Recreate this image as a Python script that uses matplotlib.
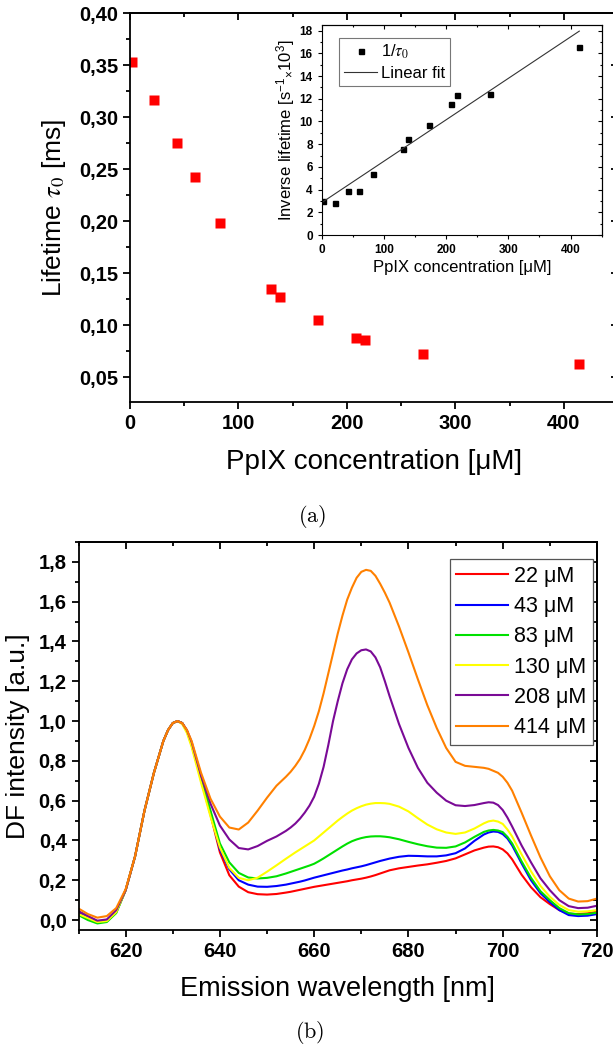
import numpy as np
import matplotlib
matplotlib.use('Agg')
import matplotlib.pyplot as plt
from matplotlib.ticker import MultipleLocator, FuncFormatter

plt.rcParams['font.family'] = ['Liberation Sans', 'DejaVu Sans']
plt.rcParams['mathtext.fontset'] = 'custom'
plt.rcParams['mathtext.rm'] = 'Liberation Sans'
plt.rcParams['mathtext.it'] = 'Liberation Sans:italic'
plt.rcParams['mathtext.bf'] = 'Liberation Sans:bold'

### panel (a): lifetime vs PpIX concentration
conc = [2, 22, 43, 60, 83, 130, 138, 173, 208, 217, 270, 414]
lifetime = [0.353, 0.316, 0.275, 0.242, 0.198, 0.135, 0.127, 0.105, 0.088, 0.086, 0.072, 0.063]
inv_lifetime = [3.0, 2.8, 3.85, 3.9, 5.4, 7.6, 8.45, 9.7, 11.5, 12.3, 12.4, 16.6]
fit_intercept = 2.85
fit_slope = 0.0365
fit_range = [2, 414]

### panel (b): delayed fluorescence spectra
wl = [610, 612, 614, 616, 618, 620, 622, 624, 626, 628,
      629, 630, 631, 632, 633, 634,
      636, 638, 640, 642, 644, 646, 648, 650,
      652, 654,
      655, 656, 657, 658, 659, 660, 661, 662, 663, 664, 665, 666, 667, 668, 669, 670, 671, 672, 673, 674, 675, 676,
      678, 680, 682, 684, 686, 688, 690, 692, 694, 696,
      697, 698, 699, 700, 701, 702,
      704, 706, 708, 710, 712, 714, 716, 718, 720]
df_22 = [0.040, 0.015, -0.010, -0.005, 0.040, 0.150, 0.320, 0.550, 0.740, 0.900,
         0.955, 0.990, 1.000, 0.990, 0.950, 0.880,
         0.705, 0.530, 0.340, 0.225, 0.168, 0.140, 0.130, 0.128,
         0.131, 0.138,
         0.142, 0.147, 0.152, 0.157, 0.162, 0.167, 0.171, 0.175, 0.179, 0.183, 0.187, 0.191, 0.195, 0.200, 0.204, 0.208, 0.213, 0.219, 0.226, 0.234, 0.242, 0.250,
         0.260, 0.267, 0.274, 0.280, 0.288, 0.297, 0.310, 0.330, 0.350, 0.364,
         0.369, 0.370, 0.366, 0.355, 0.335, 0.305,
         0.228, 0.165, 0.115, 0.080, 0.050, 0.032, 0.030, 0.034, 0.042]
df_43 = [0.035, 0.010, -0.010, -0.005, 0.040, 0.150, 0.320, 0.550, 0.740, 0.900,
         0.955, 0.990, 1.000, 0.990, 0.950, 0.880,
         0.710, 0.540, 0.355, 0.255, 0.200, 0.178, 0.168, 0.167,
         0.171, 0.178,
         0.183, 0.188, 0.193, 0.199, 0.206, 0.213, 0.219, 0.225, 0.231, 0.237, 0.243, 0.249, 0.254, 0.260, 0.265, 0.270, 0.276, 0.283, 0.290, 0.297, 0.303, 0.309,
         0.318, 0.323, 0.322, 0.320, 0.320, 0.325, 0.336, 0.360, 0.398, 0.430,
         0.440, 0.445, 0.443, 0.432, 0.410, 0.375,
         0.285, 0.200, 0.135, 0.090, 0.050, 0.025, 0.020, 0.022, 0.030]
df_83 = [0.025, 0.000, -0.017, -0.010, 0.035, 0.150, 0.320, 0.550, 0.740, 0.900,
         0.955, 0.990, 1.000, 0.990, 0.950, 0.885,
         0.715, 0.550, 0.385, 0.290, 0.237, 0.214, 0.209, 0.212,
         0.220, 0.234,
         0.242, 0.250, 0.258, 0.266, 0.274, 0.283, 0.296, 0.310, 0.325, 0.340, 0.355, 0.370, 0.384, 0.396, 0.405, 0.412, 0.417, 0.420, 0.421, 0.421, 0.419, 0.416,
         0.406, 0.393, 0.381, 0.371, 0.364, 0.363, 0.370, 0.390, 0.418, 0.443,
         0.450, 0.453, 0.450, 0.442, 0.418, 0.385,
         0.295, 0.212, 0.145, 0.100, 0.060, 0.035, 0.028, 0.030, 0.037]
df_130 = [0.030, 0.010, -0.010, -0.005, 0.040, 0.150, 0.320, 0.550, 0.740, 0.900,
          0.955, 0.990, 1.000, 0.985, 0.940, 0.870,
          0.690, 0.520, 0.365, 0.262, 0.212, 0.200, 0.213, 0.243,
          0.275, 0.308,
          0.324, 0.340, 0.355, 0.370, 0.385, 0.400, 0.420, 0.440, 0.460, 0.480, 0.500, 0.518, 0.535, 0.550, 0.562, 0.572, 0.580, 0.585, 0.588, 0.588, 0.587, 0.584,
          0.570, 0.546, 0.512, 0.480, 0.456, 0.440, 0.433, 0.440, 0.460, 0.486,
          0.496, 0.500, 0.495, 0.483, 0.455, 0.420,
          0.330, 0.245, 0.172, 0.117, 0.076, 0.050, 0.042, 0.044, 0.050]
df_208 = [0.045, 0.020, -0.003, 0.003, 0.050, 0.150, 0.320, 0.550, 0.740, 0.900,
          0.955, 0.990, 1.000, 0.990, 0.955, 0.895,
          0.725, 0.585, 0.475, 0.405, 0.362, 0.355, 0.372, 0.398,
          0.420, 0.448,
          0.465, 0.485, 0.510, 0.540, 0.575, 0.620, 0.685, 0.770, 0.880, 1.000, 1.100, 1.190, 1.260, 1.310, 1.340, 1.356, 1.360, 1.350, 1.320, 1.270, 1.200, 1.125,
          0.985, 0.865, 0.765, 0.690, 0.640, 0.600, 0.577, 0.573, 0.578, 0.588,
          0.592, 0.590, 0.578, 0.553, 0.515, 0.470,
          0.375, 0.290, 0.210, 0.150, 0.100, 0.070, 0.060, 0.062, 0.072]
df_414 = [0.058, 0.030, 0.012, 0.020, 0.060, 0.155, 0.320, 0.550, 0.740, 0.900,
          0.955, 0.990, 1.000, 0.990, 0.955, 0.900,
          0.740, 0.610, 0.520, 0.465, 0.455, 0.490, 0.550, 0.615,
          0.675, 0.720,
          0.745, 0.775, 0.810, 0.855, 0.910, 0.975, 1.050, 1.140, 1.240, 1.340, 1.440, 1.530, 1.610, 1.670, 1.720, 1.750, 1.760, 1.755, 1.730, 1.690, 1.645, 1.595,
          1.475, 1.345, 1.210, 1.080, 0.965, 0.865, 0.795, 0.775, 0.770, 0.765,
          0.760, 0.750, 0.740, 0.720, 0.690, 0.650,
          0.540, 0.425, 0.315, 0.220, 0.150, 0.108, 0.093, 0.095, 0.108]
spectra = [df_22, df_43, df_83, df_130, df_208, df_414]
spectra_labels = ['22 μM', '43 μM', '83 μM', '130 μM', '208 μM', '414 μM']
spectra_colors = ['#ff0000', '#0000ff', '#00e000', '#ffff00', '#7a0a96', '#ff8000']

W, H = 613, 1051
fig = plt.figure(figsize=(W / 100, H / 100), dpi=100)

def comma_fmt(nd):
    return FuncFormatter(lambda v, p: ('{:.%df}' % nd).format(v).replace('.', ','))

def style_axes(ax, xmaj, xmin, ymaj, ymin, size, lw, tlen):
    for s in ax.spines.values():
        s.set_linewidth(lw)
    ax.xaxis.set_major_locator(MultipleLocator(xmaj))
    ax.xaxis.set_minor_locator(MultipleLocator(xmin))
    ax.yaxis.set_major_locator(MultipleLocator(ymaj))
    ax.yaxis.set_minor_locator(MultipleLocator(ymin))
    ax.tick_params(which='both', direction='out', top=False, right=False, width=lw, labelsize=size)
    ax.tick_params(which='major', length=tlen)
    ax.tick_params(which='minor', length=tlen * 0.6)
    for lab in ax.get_xticklabels() + ax.get_yticklabels():
        lab.set_fontweight('bold')
    # mirrored ticks pointing inward on top and right
    top = ax.secondary_xaxis('top')
    top.xaxis.set_major_locator(MultipleLocator(xmaj))
    top.xaxis.set_minor_locator(MultipleLocator(xmin))
    top.tick_params(which='both', direction='in', labeltop=False, width=lw)
    top.tick_params(which='major', length=tlen)
    top.tick_params(which='minor', length=tlen * 0.6)
    top.spines['top'].set_linewidth(lw)
    right = ax.secondary_yaxis('right')
    right.yaxis.set_major_locator(MultipleLocator(ymaj))
    right.yaxis.set_minor_locator(MultipleLocator(ymin))
    right.tick_params(which='both', direction='in', labelright=False, width=lw)
    right.tick_params(which='major', length=tlen)
    right.tick_params(which='minor', length=tlen * 0.6)
    right.spines['right'].set_linewidth(lw)

### (a) main axes
ax1 = fig.add_axes([130 / W, 1 - 402 / H, (618 - 130) / W, (402 - 13) / H])
ax1.plot(conc, lifetime, 's', color='#ff0000', ms=6.5, mec='none')
ax1.set_xlim(0, 450)
ax1.set_ylim(0.026, 0.40)
style_axes(ax1, 100, 50, 0.05, 0.025, 14.5, 1.3, 5)
ax1.yaxis.set_major_formatter(comma_fmt(2))
ax1.set_xlabel('PpIX concentration [μM]', fontsize=20, labelpad=12)
ax1.set_ylabel(r'Lifetime $\tau_0$ [ms]', fontsize=19, labelpad=8, math_fontfamily='stix')

### (a) inset
ins = fig.add_axes([321.7 / W, 1 - 235 / H, 280 / W, 210 / H])
ins.plot(conc, inv_lifetime, 's', color='black', ms=3.6, label=r'1/$\tau_0$')
fit_x = np.array(fit_range)
ins.plot(fit_x, fit_intercept + fit_slope * fit_x, '-', color='#333333', lw=0.8, label='Linear fit')
ins.set_xlim(0, 450)
ins.set_ylim(0, 18.5)
style_axes(ins, 100, 50, 2, 1, 8.5, 0.8, 3)
ins.set_xlabel('PpIX concentration [μM]', fontsize=12, labelpad=3)
ins.set_ylabel(r'Inverse lifetime [s$^{-1}$$_{\times}$10$^{3}$]', fontsize=12, labelpad=2)
leg1 = ins.legend(loc='upper left', bbox_to_anchor=(0.062, 0.938), borderaxespad=0, fontsize=12,
                  numpoints=1, fancybox=False, edgecolor='#777777', framealpha=1,
                  handlelength=2.0, labelspacing=0.25, borderpad=0.3, handletextpad=0.2)
leg1.get_frame().set_linewidth(0.8)
leg1.get_texts()[0].set_math_fontfamily('stix')

fig.text(312 / W, 1 - 517 / H, r'$\mathrm{(a)}$', math_fontfamily='cm', fontsize=16,
         ha='center', va='center')

### (b) spectra
ax2 = fig.add_axes([78.5 / W, 1 - 930 / H, 518.5 / W, 388 / H])
for ys, lab, col in zip(spectra, spectra_labels, spectra_colors):
    ax2.plot(wl, ys, '-', color=col, lw=1.5, label=lab)
ax2.set_xlim(610, 720)
ax2.set_ylim(-0.05, 1.9)
style_axes(ax2, 20, 10, 0.2, 0.1, 14.5, 1.3, 5)
ax2.yaxis.set_major_formatter(comma_fmt(1))
ax2.set_xlabel('Emission wavelength [nm]', fontsize=19.5, labelpad=11)
ax2.set_ylabel('DF intensity [a.u.]', fontsize=19, labelpad=6)
leg2 = ax2.legend(loc='upper right', bbox_to_anchor=(0.992, 0.955), borderaxespad=0, fontsize=15.5,
                  fancybox=False, edgecolor='#555555', framealpha=1, handlelength=2.4,
                  labelspacing=0.43, borderpad=0.3, handletextpad=0.3)
leg2.get_frame().set_linewidth(0.9)

fig.text(310 / W, 1 - 1033 / H, r'$\mathrm{(b)}$', math_fontfamily='cm', fontsize=16,
         ha='center', va='center')

fig.savefig('out.png', dpi=100)
